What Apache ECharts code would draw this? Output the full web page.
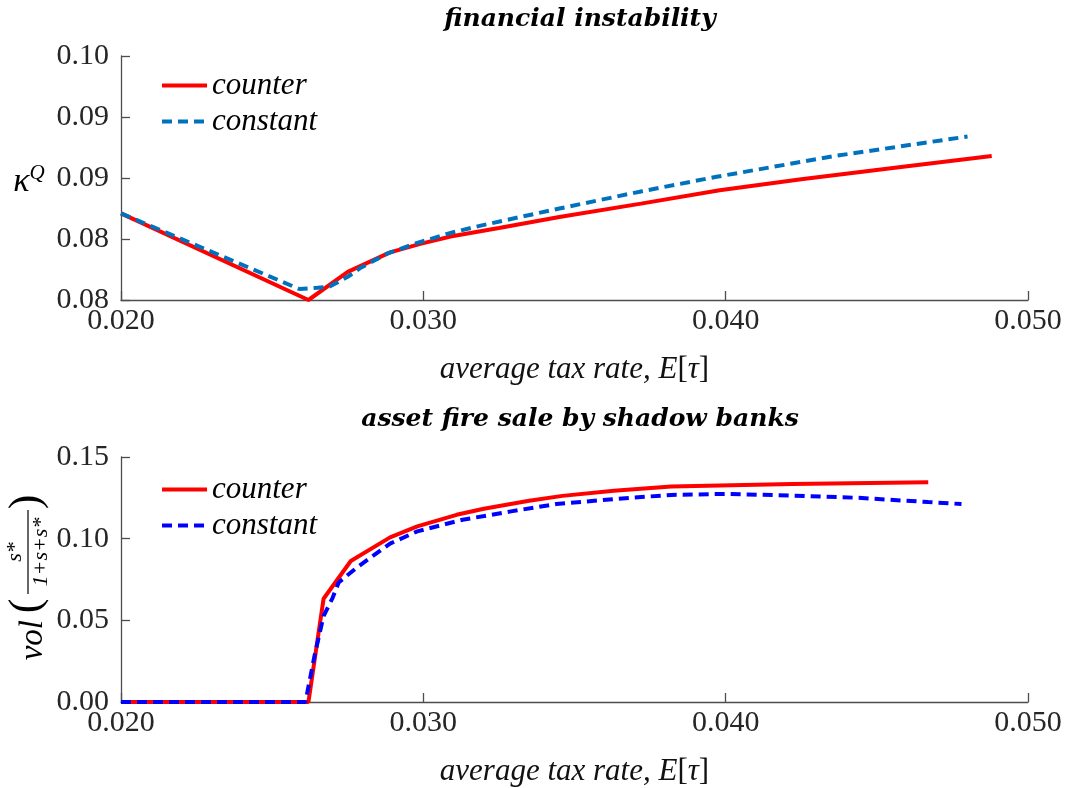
<!DOCTYPE html>
<html>
<head>
<meta charset="utf-8">
<script src="https://cdn.jsdelivr.net/npm/echarts@6/dist/echarts.min.js"></script>
<style>
  html, body { margin: 0; padding: 0; background: #fff; }
  #main { width: 1068px; height: 788px; }
</style>
</head>
<body>
<div id="main"></div>
<script>
// top panel: financial instability (kappa^Q)
var kCounterTax = [0.0200, 0.0262, 0.0275, 0.0289, 0.0299, 0.0309, 0.0325, 0.0345, 0.0372, 0.0398, 0.0425, 0.0458, 0.0488];
var kCounterVal = [0.0871, 0.0800, 0.0823, 0.0839, 0.0846, 0.0852, 0.0859, 0.0868, 0.0879, 0.0890, 0.0899, 0.0909, 0.0918];
var kConstTax = [0.0200, 0.0259, 0.0265, 0.0269, 0.0275, 0.0279, 0.0288, 0.0297, 0.0309, 0.0319, 0.0345, 0.0372, 0.0397, 0.0436, 0.0480];
var kConstVal = [0.0871, 0.0809, 0.0810, 0.0811, 0.0819, 0.0826, 0.0838, 0.0846, 0.0855, 0.0861, 0.0875, 0.0889, 0.0901, 0.0918, 0.0934];

// bottom panel: asset fire sale by shadow banks
var vCounterTax = [0.0200, 0.0262, 0.0267, 0.0276, 0.0289, 0.0298, 0.0311, 0.0320, 0.0335, 0.0346, 0.0363, 0.0382, 0.0422, 0.0467];
var vCounterVal = [0, 0, 0.0632, 0.0863, 0.1008, 0.1075, 0.1146, 0.1183, 0.1232, 0.1262, 0.1293, 0.1319, 0.1335, 0.1346];
var vConstTax = [0.0200, 0.0261, 0.0264, 0.0267, 0.0270, 0.0272, 0.0278, 0.0289, 0.0298, 0.0313, 0.0329, 0.0344, 0.0364, 0.0382, 0.0400, 0.0422, 0.0444, 0.0467, 0.0478];
var vConstVal = [0, 0, 0.0282, 0.0526, 0.0638, 0.0732, 0.0823, 0.0970, 0.1045, 0.1116, 0.1167, 0.1212, 0.1244, 0.1268, 0.1274, 0.1264, 0.1250, 0.1224, 0.1212];

// tick labels (as printed, 2 decimals)
var topTickLabels = ['0.08', '0.08', '0.09', '0.09', '0.10'];
var bottomTickLabels = ['0.00', '0.05', '0.10', '0.15'];

var SERIF = '"Liberation Serif", "DejaVu Serif", serif';

function pairs(xs, ys){
	var out = [];
	for (var i = 0; i < xs.length; i++) {
		out.push([xs[i], ys[i]]);
	}
	return out;
}

var axisColor = '#4d4d4d';
var labelColor = '#262626';

function makeX(idx){
	return {
		type: 'value', gridIndex: idx,
		min: 0.02, max: 0.05, interval: 0.01,
		axisLine: { show: true, onZero: false, lineStyle: { color: axisColor, width: 1.3 } },
		axisTick: { show: true, inside: true, length: 9, lineStyle: { color: axisColor, width: 1.3 } },
		splitLine: { show: false },
		axisLabel: {
			margin: 6, color: labelColor, fontFamily: SERIF, fontSize: 30,
			formatter: function(v){ return v.toFixed(3); }
		},
		name: '{i|average tax rate, E}{n|[}{i|τ}{n|]}',
		nameLocation: 'middle',
		nameGap: 54,
		nameTextStyle: {
			rich: {
				i: { fontFamily: SERIF, fontStyle: 'italic', fontSize: 31, color: '#111' },
				n: { fontFamily: SERIF, fontSize: 31, color: '#111' }
			}
		}
	};
}

function makeY(idx, min, max, step, labels){
	return {
		type: 'value', gridIndex: idx,
		min: min, max: max, interval: step,
		axisLine: { show: true, lineStyle: { color: axisColor, width: 1.3 } },
		axisTick: { show: true, inside: true, length: 9, lineStyle: { color: axisColor, width: 1.3 } },
		splitLine: { show: false },
		axisLabel: {
			margin: 12, color: labelColor, fontFamily: SERIF, fontSize: 30,
			formatter: function(v){ return labels[Math.round((v - min) / step)]; }
		}
	};
}

var legendText = { fontFamily: SERIF, fontStyle: 'italic', fontSize: 31, color: '#000' };
var titleText = { fontFamily: '"DejaVu Serif", serif', fontStyle: 'italic', fontWeight: 'bold', fontSize: 25, color: '#000' };

var myChart = echarts.init(document.getElementById('main'));
var option = {
	backgroundColor: '#fff',
	animation: false,
	title: [
		{ text: 'financial instability', left: 575, top: 2, textAlign: 'center', textStyle: titleText },
		{ text: 'asset fire sale by shadow banks', left: 575, top: 402, textAlign: 'center', textStyle: titleText }
	],
	grid: [
		{ left: 121, right: 40, top: 56, height: 244 },
		{ left: 121, right: 40, top: 457, height: 246 }
	],
	legend: [
		{ data: ['counter', 'constant'], orient: 'vertical', left: 155, top: 65, itemWidth: 45, itemHeight: 14, itemGap: 5,
		  textStyle: legendText, itemStyle: { opacity: 0 }, lineStyle: { width: 4 } },
		{ data: ['counter ', 'constant '], orient: 'vertical', left: 155, top: 469, itemWidth: 45, itemHeight: 14, itemGap: 5,
		  textStyle: legendText, itemStyle: { opacity: 0 }, lineStyle: { width: 4 } }
	],
	xAxis: [makeX(0), makeX(1)],
	yAxis: [
		makeY(0, 0.08, 0.10, 0.005, topTickLabels),
		makeY(1, 0, 0.15, 0.05, bottomTickLabels)
	],
	series: [
		{ name: 'counter', type: 'line', xAxisIndex: 0, yAxisIndex: 0, symbol: 'none',
		  data: pairs(kCounterTax, kCounterVal), lineStyle: { color: '#ff0000', width: 4 }, itemStyle: { color: '#ff0000' } },
		{ name: 'constant', type: 'line', xAxisIndex: 0, yAxisIndex: 0, symbol: 'none',
		  data: pairs(kConstTax, kConstVal), lineStyle: { color: '#0072bd', width: 4, type: [10, 6] }, itemStyle: { color: '#0072bd' } },
		{ name: 'counter ', type: 'line', xAxisIndex: 1, yAxisIndex: 1, symbol: 'none',
		  data: pairs(vCounterTax, vCounterVal), lineStyle: { color: '#ff0000', width: 4 }, itemStyle: { color: '#ff0000' } },
		{ name: 'constant ', type: 'line', xAxisIndex: 1, yAxisIndex: 1, symbol: 'none',
		  data: pairs(vConstTax, vConstVal), lineStyle: { color: '#0000ff', width: 4, type: [10, 6] }, itemStyle: { color: '#0000ff' } }
	],
	graphic: [
		// kappa^Q label
		{ type: 'text', x: 29, y: 181,
		  style: { text: '{k|κ}{q|Q}', align: 'center', verticalAlign: 'middle',
			rich: {
				k: { fontFamily: SERIF, fontStyle: 'italic', fontSize: 34, color: '#000', lineHeight: 36, verticalAlign: 'bottom' },
				q: { fontFamily: SERIF, fontStyle: 'italic', fontSize: 21, color: '#000', verticalAlign: 'top' }
			} } },
		// vol( s* / (1+s+s*) ) label, rotated
		{ type: 'group', x: 28, y: 580, rotation: Math.PI / 2,
		  children: [
			{ type: 'text', x: -40, y: 5, style: { text: 'vol', font: 'italic 33px ' + SERIF, fill: '#000', align: 'right', verticalAlign: 'middle' } },
			{ type: 'text', x: -26, y: -1, style: { text: '(', font: '44px ' + SERIF, fill: '#000', align: 'center', verticalAlign: 'middle' } },
			{ type: 'text', x: 28, y: -2, style: { text: 's*', font: 'italic 22px ' + SERIF, fill: '#000', align: 'center', verticalAlign: 'bottom' } },
			{ type: 'line', shape: { x1: -14, y1: 0, x2: 70, y2: 0 }, style: { stroke: '#000', lineWidth: 1.2 } },
			{ type: 'text', x: 28, y: 2, style: { text: '1+s+s*', font: 'italic 22px ' + SERIF, fill: '#000', align: 'center', verticalAlign: 'top' } },
			{ type: 'text', x: 78, y: -1, style: { text: ')', font: '44px ' + SERIF, fill: '#000', align: 'center', verticalAlign: 'middle' } }
		  ] }
	]
};
myChart.setOption(option);
</script>
</body>
</html>
